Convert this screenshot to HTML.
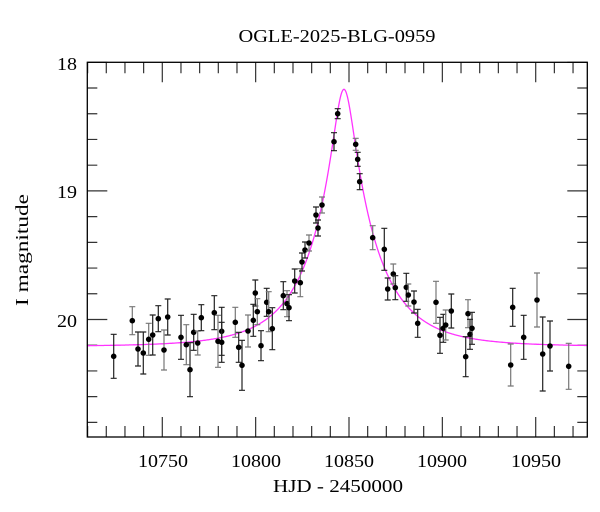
<!DOCTYPE html>
<html><head><meta charset="utf-8"><style>
html,body{margin:0;padding:0;background:#fff;}
svg{display:block;font-family:"Liberation Serif",serif;}
</style></head><body>
<svg id="s" width="600" height="512" viewBox="0 0 600 512" xmlns="http://www.w3.org/2000/svg">
<rect width="600" height="512" fill="#fff"/>
<text x="337" y="42" font-size="18" text-anchor="middle" textLength="197" lengthAdjust="spacingAndGlyphs">OGLE-2025-BLG-0959</text>
<text x="338" y="492" font-size="18" text-anchor="middle" textLength="130" lengthAdjust="spacingAndGlyphs">HJD - 2450000</text>
<text transform="translate(28,250) rotate(-90)" font-size="18" text-anchor="middle" textLength="112" lengthAdjust="spacingAndGlyphs">I magnitude</text>
<g font-size="18" text-anchor="middle">
<text x="163" y="467" textLength="50" lengthAdjust="spacingAndGlyphs">10750</text>
<text x="256" y="467" textLength="50" lengthAdjust="spacingAndGlyphs">10800</text>
<text x="349" y="467" textLength="50" lengthAdjust="spacingAndGlyphs">10850</text>
<text x="442" y="467" textLength="50" lengthAdjust="spacingAndGlyphs">10900</text>
<text x="536" y="467" textLength="50" lengthAdjust="spacingAndGlyphs">10950</text>
</g>
<g font-size="18" text-anchor="end">
<text x="77" y="70" textLength="20" lengthAdjust="spacingAndGlyphs">18</text>
<text x="77" y="198" textLength="20" lengthAdjust="spacingAndGlyphs">19</text>
<text x="77" y="327" textLength="20" lengthAdjust="spacingAndGlyphs">20</text>
</g>
<g id="ticks" stroke="#333" stroke-width="1.2"></g>
<path id="curve" fill="none" stroke="#ff33ff" stroke-width="1.3"/>
<g id="pts"></g>
<rect x="87.3" y="62.3" width="500" height="374.7" fill="none" stroke="#000" stroke-width="1.3"/>
</svg>
<script>
var NS="http://www.w3.org/2000/svg";
var L=87.3,R=587.3,T=62.3,B=437;
function X(t){return 162.3+(t-10750)*1.867;}
function Y(m){return 62.3+(m-18)*128.6;}
var tk=document.getElementById('ticks'),d="";
for(var t=10710;t<=10977;t+=10){var x=X(t),len=(t%50==0)?20:11;d+="M"+x+" "+B+"V"+(B-len)+"M"+x+" "+T+"V"+(T+len);}
for(var i=0;i<=14;i++){var m=18+i*0.2,y=Y(m);if(y>B)break;var len=(i%5==0)?20:10;d+="M"+L+" "+y+"H"+(L+len)+"M"+R+" "+y+"H"+(R-len);}
var p=document.createElementNS(NS,'path');p.setAttribute('d',d);p.setAttribute('fill','none');tk.appendChild(p);
var c="";for(var x=L;x<=R;x+=0.5){var t=10750+(x-162.3)/1.867;var tau=(t-10847.3)/34;var u=Math.sqrt(0.0256+tau*tau);var A=(u*u+2)/(u*Math.sqrt(u*u+4));var m=20.21-2.5*Math.log10(A);c+=(c?"L":"M")+x.toFixed(1)+" "+Y(m).toFixed(1);}
document.getElementById('curve').setAttribute('d',c);
var P=[[113.7,356.3,22],[132.3,320.7,14],[138,349,17],[143.3,353,21],[148.7,339.3,16],[152.7,335,20],[158.3,318.7,13],[164,350,20],[167.7,317,18],[181,337.3,22],[186.3,344.7,20],[190,369.7,27],[193.7,332.3,18],[197.7,343,12],[201.3,317.7,13],[214.3,312.7,17],[218,341.3,26],[221.7,331.3,24],[221.7,342.3,20],[235.3,322.3,15],[238.7,347.3,15],[242,365.3,25],[248,331,16],[253.3,320.3,16],[255.3,293,13],[257.3,311.7,13],[261,345.7,15],[266.7,302.3,14],[268.7,311.7,20],[272.3,328.7,21],[283.3,295.7,14],[287,303.7,13],[289,307.7,13],[294.7,281,12],[300.3,282.7,14],[302,262,9],[305,250,8],[309,243,8],[316,215,8],[318,228,8],[322,205,8],[334,141.7,9],[337.7,113.7,5],[355.7,144.3,6],[357.7,159.3,7],[359.7,181.7,8],[372.7,237.7,12],[384.3,249.3,21],[387.7,289,11],[393.3,274,10],[395.3,287.7,12],[406.3,287.3,14],[408.3,295,11],[414,302,11],[417.7,323.3,14],[436,302.3,21],[440,335.3,18],[443.3,328.3,14],[445.7,325,15],[451.3,311,17],[465.7,356.7,20],[468,313.7,14],[470,334.3,15],[472,328.3,16],[510.7,365,21],[512.7,307.3,19],[523.7,337.3,22],[537,300,27],[542.7,354,37],[550,346,25],[568.7,366.3,23]];
var g=document.getElementById('pts'),s="";
P.forEach(function(q,i){var x=q[0],y=q[1],e=q[2],col=(i%3==1)?"#777":"#222";
s+='<path d="M'+x+' '+(y-e)+'V'+(y+e)+'M'+(x-3)+' '+(y-e)+'H'+(x+3)+'M'+(x-3)+' '+(y+e)+'H'+(x+3)+'" stroke="'+col+'" stroke-width="1.2" fill="none"/>';
s+='<circle cx="'+x+'" cy="'+y+'" r="2.8" fill="#000"/>';});
g.innerHTML=s;
</script>
</body></html>
